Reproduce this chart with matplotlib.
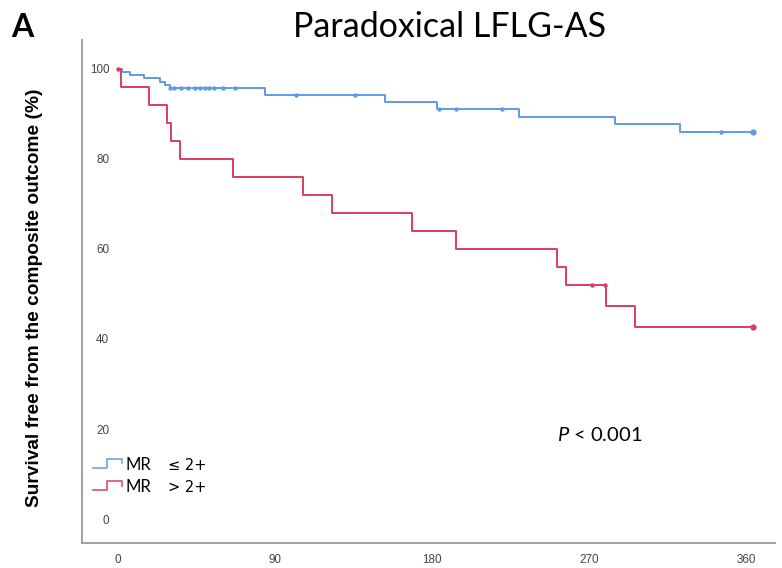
import numpy as np
import matplotlib.pyplot as plt

plt.rcParams['mathtext.fontset'] = 'custom'
plt.rcParams['mathtext.it'] = 'Lato:italic'
plt.rcParams['mathtext.rm'] = 'Lato'

# Kaplan-Meier estimates (days, % event free)
blue_days = [0, 2, 7, 15, 24, 27, 30, 84, 153, 183, 230, 285, 322, 364]
blue_surv = [100, 99.3, 98.6, 97.9, 97.1, 96.4, 95.7, 94.1, 92.6, 91.0, 89.3, 87.6, 86.0, 86.0]
blue_cens = [30, 32, 36, 40, 44, 47, 50, 52, 55, 60, 67, 102, 136, 184, 194, 220, 346]

red_days = [0, 1.5, 18, 28, 30.5, 35.5, 66, 106, 122.5, 168.5, 194, 251.5, 257, 280, 296.5, 364]
red_surv = [100, 96, 92, 88, 84, 80, 76, 72, 68, 64, 60, 56, 52, 47.3, 42.6, 42.6]
red_cens = [0, 271.5, 279]

x_ticks = [0, 90, 180, 270, 360]
y_ticks = [0, 20, 40, 60, 80, 100]

blue = '#5f9be6'
red = '#dd3d5e'


def surv_at(days, surv, t):
    i = np.searchsorted(days, t, side='right') - 1
    return surv[i]


fig = plt.figure(figsize=(7.82, 5.68), dpi=100)
ax = fig.add_axes([0.105, 0.044, 0.886, 0.886])

ax.plot(blue_days, blue_surv, drawstyle='steps-post', color=blue, lw=1.4)
ax.plot(red_days, red_surv, drawstyle='steps-post', color=red, lw=1.4)

ax.plot(blue_cens, [surv_at(blue_days, blue_surv, t) for t in blue_cens],
        ls='none', marker='o', ms=2.2, color=blue)
ax.plot(red_cens, [surv_at(red_days, red_surv, t) for t in red_cens],
        ls='none', marker='o', ms=2.2, color=red)
ax.plot([blue_days[-1]], [blue_surv[-1]], ls='none', marker='o', ms=3.5, color=blue)
ax.plot([red_days[-1]], [red_surv[-1]], ls='none', marker='o', ms=3.5, color=red)

ax.set_xlim(-20.6, 376.7)
ax.set_ylim(-5.3, 106.4)
ax.set_xticks(x_ticks)
ax.set_yticks(y_ticks)

for s in ['top', 'right']:
    ax.spines[s].set_visible(False)
for s in ['left', 'bottom']:
    ax.spines[s].set_color('#9a9a9a')
    ax.spines[s].set_linewidth(1.3)

ax.tick_params(axis='both', length=0, labelsize=8.4, labelcolor='#444444')
ax.tick_params(axis='x', pad=8)
ax.tick_params(axis='y', pad=-19.5)
for lab in ax.get_xticklabels() + ax.get_yticklabels():
    lab.set_family('Liberation Sans')

ax.set_ylabel('Survival free from the composite outcome (%)',
              fontsize=13.8, fontweight='bold', family='Liberation Sans')
ax.yaxis.set_label_coords(-0.056, 0.487)

fig.text(0.575, 0.952, 'Paradoxical LFLG-AS', fontsize=24.5, family='Lato',
         ha='center', va='center')
fig.text(0.014, 0.952, 'A', fontsize=23, fontweight='bold', family='Lato',
         ha='left', va='center')

ax.text(0.747, 0.215, r'$P$ < 0.001', transform=ax.transAxes,
        fontsize=14.5, family='Lato', ha='center', va='center')

# legend entries with step-shaped keys
legend_rows = [(blue, '\u2264 2+'), (red, '> 2+')]
for i, (col, txt) in enumerate(legend_rows):
    y0 = 0.155 - i * 0.044
    kx = np.array([0.015, 0.036, 0.036, 0.058, 0.058])
    ky = np.array([y0 - 0.005, y0 - 0.005, y0 + 0.012, y0 + 0.012, y0 + 0.003])
    ax.plot(kx, ky, color=col, lw=1.1, transform=ax.transAxes, clip_on=False)
    ax.text(0.063, y0, 'MR', transform=ax.transAxes, fontsize=12, family='Lato',
            ha='left', va='center')
    ax.text(0.124, y0, txt, transform=ax.transAxes, fontsize=10.5, family='DejaVu Sans',
            ha='left', va='center')

fig.savefig('out.png', dpi=100)
